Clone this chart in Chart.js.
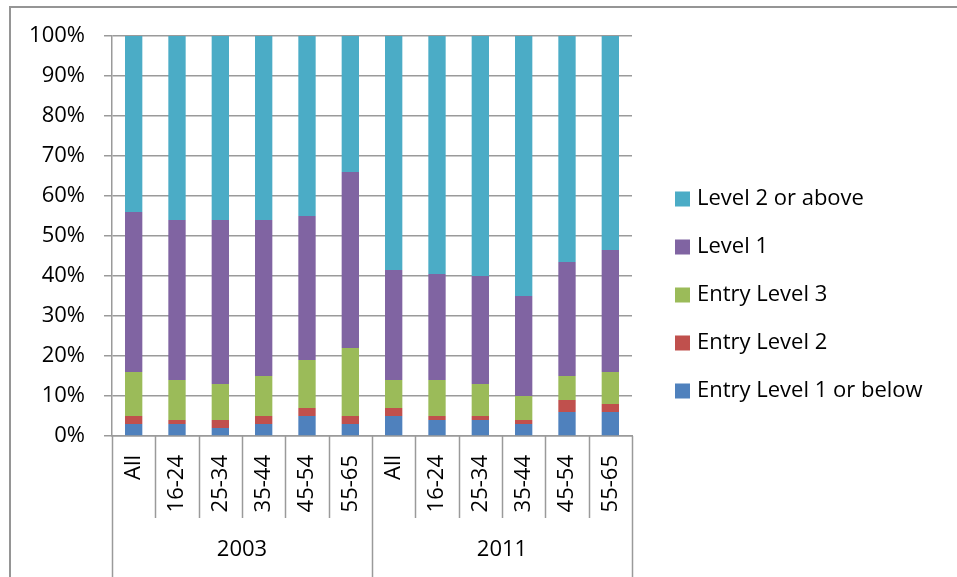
<!DOCTYPE html>
<html>
<head>
<meta charset="utf-8">
<script src="https://cdn.jsdelivr.net/npm/chart.js@4.4.1/dist/chart.umd.min.js"></script>
<style>
    html, body { margin: 0; padding: 0; background: #fff; }
    .frame {
        position: absolute; left: 9px; top: 6px; right: -10px; bottom: -10px;
        border-top: 2px solid #959595; border-left: 2px solid #959595;
    }
    #chart { position: absolute; left: 0; top: 0; }
</style>
</head>
<body>
<div class="frame"></div>
<canvas id="chart" width="957" height="577"></canvas>
<script>
// Nhãn nhóm tuổi và năm khảo sát
const categories = ['All', '16-24', '25-34', '35-44', '45-54', '55-65',
                    'All', '16-24', '25-34', '35-44', '45-54', '55-65'];
const groups = ['2003', '2011'];

// Tỷ lệ (%) theo từng trình độ, từ dưới lên trên
const entryLevel1 = [3, 3, 2, 3, 5, 3, 5, 4, 4, 3, 6, 6];
const entryLevel2 = [2, 1, 2, 2, 2, 2, 2, 1, 1, 1, 3, 2];
const entryLevel3 = [11, 10, 9, 10, 12, 17, 7, 9, 8, 6, 6, 8];
const level1 = [40, 40, 41, 39, 36, 44, 27.5, 26.5, 27, 25, 28.5, 30.5];
const level2Above = [44, 46, 46, 46, 45, 34, 58.5, 59.5, 60, 65, 56.5, 53.5];

const yTicks = [0, 10, 20, 30, 40, 50, 60, 70, 80, 90, 100];

const gridColor = '#9a9a9a';
const labelFont = "22px 'Open Sans', sans-serif";

Chart.defaults.font.family = "'Open Sans', sans-serif";
Chart.defaults.font.size = 22;
Chart.defaults.color = '#000';

// Vẽ đường chia nhóm dưới trục X, nhãn năm và chú thích bên phải
const groupDividers = {
    id: 'groupDividers',
    afterDraw(chart) {
        const x = chart.scales.x;
        const ctx = chart.ctx;
        const perGroup = categories.length / groups.length;
        ctx.save();
        ctx.strokeStyle = gridColor;
        ctx.lineWidth = 1.5;
        for (let i = 0; i <= categories.length; i++) {
            const px = Math.round(x.getPixelForValue(i - 0.5)) + 0.5;
            const isEdge = i % perGroup === 0;
            ctx.beginPath();
            ctx.moveTo(px, x.top);
            ctx.lineTo(px, isEdge ? chart.height : x.top + 82);
            ctx.stroke();
        }
        ctx.fillStyle = '#000';
        ctx.font = labelFont;
        ctx.textAlign = 'center';
        ctx.textBaseline = 'middle';
        groups.forEach(function(g, k) {
            const a = x.getPixelForValue(k * perGroup - 0.5);
            const b = x.getPixelForValue((k + 1) * perGroup - 0.5);
            ctx.fillText(g, (a + b) / 2, x.top + 114);
        });

        // chú thích: thứ tự ngược, mục trên cùng là chuỗi trên cùng
        const items = chart.data.datasets.slice().reverse();
        const legendX = chart.chartArea.right + 43;
        let y = 199;
        ctx.textAlign = 'left';
        items.forEach(function(ds) {
            ctx.fillStyle = ds.backgroundColor;
            ctx.fillRect(legendX, y - 7.5, 15, 15);
            ctx.fillStyle = '#000';
            ctx.fillText(ds.label, legendX + 22, y);
            y += 48;
        });
        ctx.restore();
    }
};

const ctx = document.getElementById('chart');
new Chart(ctx, {
    type: 'bar',
    data: {
        labels: categories,
        datasets: [
            { label: 'Entry Level 1 or below', data: entryLevel1, backgroundColor: '#4F81BD' },
            { label: 'Entry Level 2', data: entryLevel2, backgroundColor: '#C0504D' },
            { label: 'Entry Level 3', data: entryLevel3, backgroundColor: '#9BBB59' },
            { label: 'Level 1', data: level1, backgroundColor: '#8064A2' },
            { label: 'Level 2 or above', data: level2Above, backgroundColor: '#4BACC6' }
        ]
    },
    options: {
        responsive: false,
        animation: false,
        datasets: {
            bar: {
                categoryPercentage: 1,
                barPercentage: 0.4
            }
        },
        layout: {
            padding: { left: 0, top: 36, right: 325, bottom: 23 }
        },
        plugins: {
            legend: { display: false },
            tooltip: { enabled: false }
        },
        scales: {
            x: {
                stacked: true,
                grid: { display: false, drawTicks: false },
                border: { color: gridColor, width: 1.5 },
                ticks: {
                    autoSkip: false,
                    minRotation: 90,
                    maxRotation: 90,
                    padding: 19
                },
                afterFit: function(scale) { scale.height = 118; }
            },
            y: {
                stacked: true,
                min: 0,
                max: 100,
                afterBuildTicks: function(scale) {
                    scale.ticks = yTicks.map(v => ({ value: v }));
                },
                grid: { color: gridColor, lineWidth: 1.5, tickLength: 8 },
                border: { color: gridColor, width: 1.5 },
                ticks: {
                    padding: 19,
                    callback: function(v) { return v + '%'; }
                },
                afterFit: function(scale) { scale.width = 112; }
            }
        }
    },
    plugins: [groupDividers]
});
</script>
</body>
</html>
